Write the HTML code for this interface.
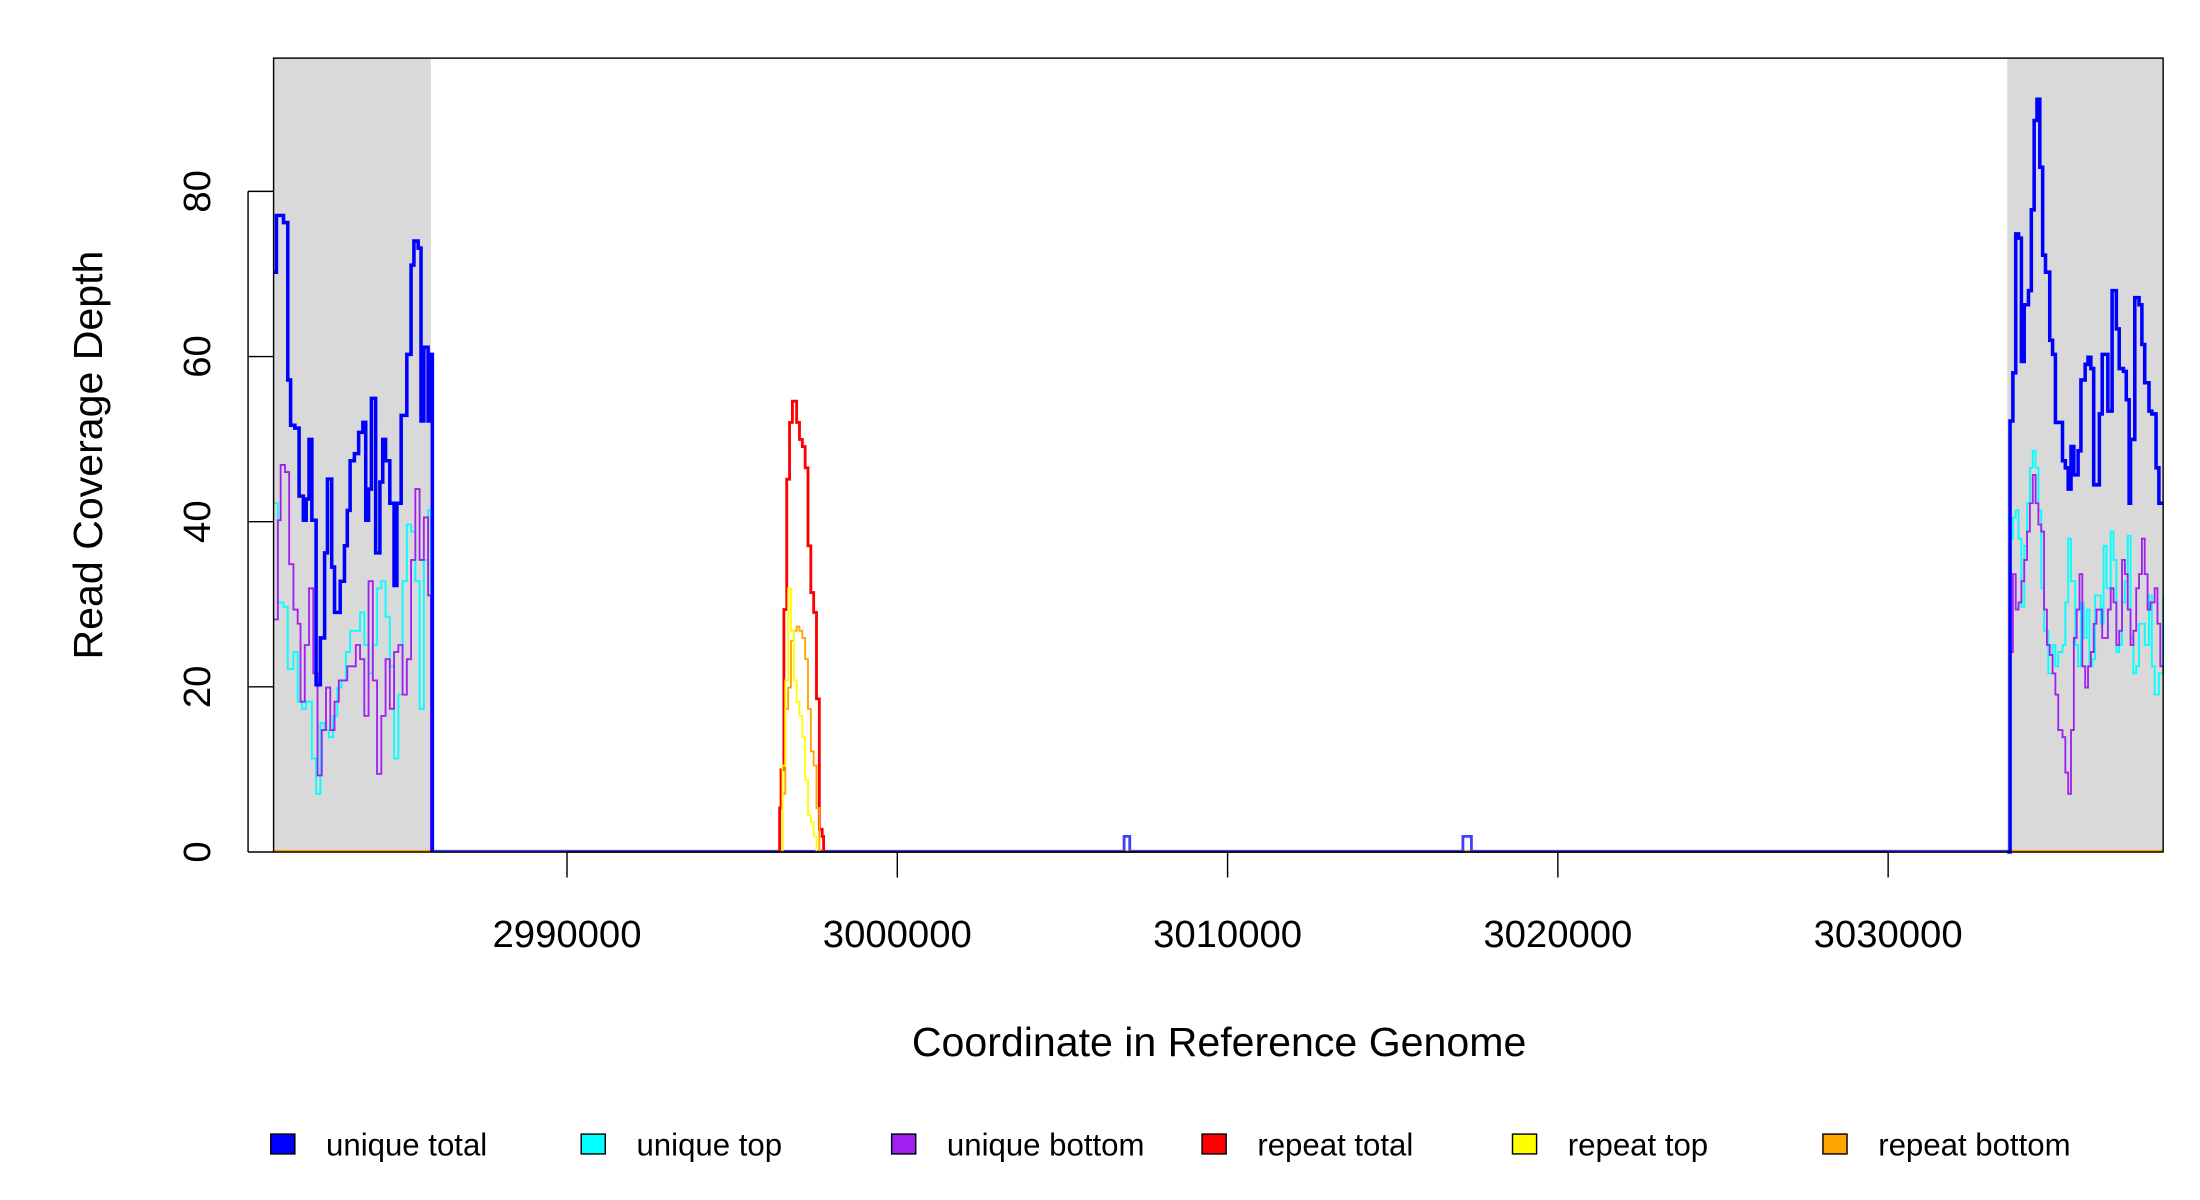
<!DOCTYPE html>
<html><head><meta charset="utf-8"><style>html,body{margin:0;padding:0;background:#fff}svg{display:block}text{font-family:"Liberation Sans",sans-serif;fill:#000}</style></head><body>
<svg id="s" width="2200" height="1200" viewBox="0 0 1552 846.5" preserveAspectRatio="none" xmlns="http://www.w3.org/2000/svg">
<rect x="193" y="41" width="111" height="560" fill="#d9d9d9"/>
<rect x="1416" y="41" width="110" height="560" fill="#d9d9d9"/>
<g id="data" fill="none" stroke-linejoin="miter"></g>
<rect x="193" y="41" width="1333" height="560" fill="none" stroke="#000" stroke-width="1"/>
<g stroke="#000" stroke-width="1">
<line x1="175" y1="135" x2="175" y2="601"/>
<line x1="175" y1="601" x2="193" y2="601"/><line x1="175" y1="484.5" x2="193" y2="484.5"/><line x1="175" y1="368" x2="193" y2="368"/><line x1="175" y1="251.5" x2="193" y2="251.5"/><line x1="175" y1="135" x2="193" y2="135"/>
<line x1="400" y1="601" x2="1332" y2="601"/>
<line x1="400" y1="601" x2="400" y2="619"/><line x1="633" y1="601" x2="633" y2="619"/><line x1="866" y1="601" x2="866" y2="619"/><line x1="1099" y1="601" x2="1099" y2="619"/><line x1="1332" y1="601" x2="1332" y2="619"/>
</g>
<g font-size="27" text-anchor="middle">
<text transform="translate(148,601) rotate(-90)">0</text>
<text transform="translate(148,484.5) rotate(-90)">20</text>
<text transform="translate(148,368) rotate(-90)">40</text>
<text transform="translate(148,251.5) rotate(-90)">60</text>
<text transform="translate(148,135) rotate(-90)">80</text>
<text x="400" y="668">2990000</text><text x="633" y="668">3000000</text><text x="866" y="668">3010000</text><text x="1099" y="668">3020000</text><text x="1332" y="668">3030000</text>
<text x="860" y="745" font-size="29">Coordinate in Reference Genome</text>
<text transform="translate(72,321) rotate(-90)" font-size="29">Read Coverage Depth</text>
</g>
<g font-size="22">
<rect x="191" y="800" width="17" height="14" fill="#0000ff" stroke="#000"/><text x="230" y="815">unique total</text>
<rect x="410" y="800" width="17" height="14" fill="#00ffff" stroke="#000"/><text x="449" y="815">unique top</text>
<rect x="629" y="800" width="17" height="14" fill="#a020f0" stroke="#000"/><text x="668" y="815">unique bottom</text>
<rect x="848" y="800" width="17" height="14" fill="#ff0000" stroke="#000"/><text x="887" y="815">repeat total</text>
<rect x="1067" y="800" width="17" height="14" fill="#ffff00" stroke="#000"/><text x="1106" y="815">repeat top</text>
<rect x="1286" y="800" width="17" height="14" fill="#ffa500" stroke="#000"/><text x="1325" y="815">repeat bottom</text>
</g>
</svg>
<script>
function step(a){var d="M"+a[0]+" "+a[1];for(var i=2;i<a.length;i+=2){d+=" H"+a[i]+" V"+a[i+1];}return d;}
function add(a,c,w){var p=document.createElementNS("http://www.w3.org/2000/svg","path");p.setAttribute("d",step(a));p.setAttribute("stroke",c);p.setAttribute("stroke-width",w);document.getElementById("data").appendChild(p);}
var bl=[193,192,195,152,200,157,203,268,205,300,208,302,211,350,214,367,216,352,218,310,220,367,223,483,226,450,229,390,231,338,234,400,236,432,240,410,243,385,245,360,247,325,250,320,253,305,256,298,258,367,260,345,262,281,265,390,268,340,270,310,272,325,275,355,278,413,280,355,283,293,287,250,290,187,292,170,295,175,297,297,299,245,302,297,304,250,305,601];
var cl=[193,355,196,425,200,428,203,472,207,460,210,495,213,500,216,495,220,535,223,560,226,510,229,515,232,520,235,505,238,485,241,480,244,460,247,445,250,445,254,432,257,455,260,475,263,455,266,415,269,410,272,435,275,470,278,535,281,490,284,410,287,370,290,375,293,410,296,500,299,395,302,360,304,601];
var pl=[193,437,196,367,198,328,201,333,204,398,207,430,210,440,212,495,215,455,218,415,221,475,224,547,227,515,230,485,233,515,236,495,239,480,242,480,245,470,248,470,251,455,254,465,257,505,260,410,263,480,266,546,269,505,272,465,275,500,278,460,281,455,284,490,287,465,290,395,293,345,296,395,299,365,302,420,304,601];
var br=[1416,601,1418,297,1420,263,1422,165,1424,168,1426,255,1428,215,1431,205,1433,148,1435,85,1437,70,1439,118,1441,180,1443,192,1446,240,1448,250,1450,298,1453,298,1455,325,1457,330,1459,345,1461,315,1463,335,1466,318,1468,268,1471,257,1473,252,1475,260,1477,342,1481,292,1483,250,1485,250,1487,290,1490,205,1493,232,1495,260,1498,262,1500,282,1502,355,1503,310,1506,210,1509,215,1511,243,1513,270,1516,290,1518,292,1521,330,1523,355,1526,355];
var cr=[1416,601,1418,380,1420,365,1422,360,1424,380,1426,428,1428,385,1430,355,1432,330,1434,318,1436,330,1438,360,1440,415,1442,445,1445,475,1448,455,1450,470,1452,460,1455,455,1457,425,1459,380,1461,410,1464,455,1466,470,1468,425,1470,450,1472,430,1474,470,1476,465,1478,420,1480,420,1482,440,1484,385,1486,415,1489,375,1491,395,1493,460,1495,455,1497,425,1499,410,1501,378,1503,450,1505,475,1507,470,1509,440,1511,440,1513,455,1516,420,1518,470,1520,490,1523,475,1526,420];
var pr=[1416,601,1418,460,1420,405,1422,430,1424,425,1426,410,1428,395,1430,375,1432,355,1434,335,1436,355,1438,370,1440,375,1442,430,1444,455,1446,462,1448,475,1450,490,1452,515,1455,520,1457,545,1459,560,1461,515,1463,450,1465,430,1467,405,1469,470,1471,485,1473,470,1475,460,1477,440,1479,430,1481,430,1483,450,1485,450,1487,430,1489,415,1491,425,1493,455,1495,445,1497,395,1499,405,1501,430,1503,455,1505,445,1507,415,1509,405,1511,380,1513,405,1515,430,1517,425,1520,415,1522,440,1524,470,1526,470];
add([193,600.5,1526,600.5],"#ffa500",2);
add(cl,"#00ffff",1.3);add(pl,"#a020f0",1.3);add(cr,"#00ffff",1.3);add(pr,"#a020f0",1.3);
add([304,600.5,793,600.5,793,590,797,590,797,600.5,1032,600.5,1032,590,1038,590,1038,600.5,1416,600.5],"#4040ff",2);
add([550,601,550,570,551,543,553,430,555,338,557,298,559,283,562,298,564,310,566,315,568,330,570,385,572,418,574,432,576,493,578,585,580,590,581,601],"#ff0000",2);
add([550,601,552,560,554,500,556,485,558,452,560,445,562,442,564,445,566,450,568,465,570,500,572,530,574,540,576,570,578,601],"#ffa500",1.3);
add([550,601,552,540,554,480,556,415,558,445,560,480,562,495,564,505,566,520,568,550,570,575,572,580,574,590,576,601],"#ffff00",1.3);
add(bl,"#0000ff",2.5);add(br,"#0000ff",2.5);
</script>
</body></html>
